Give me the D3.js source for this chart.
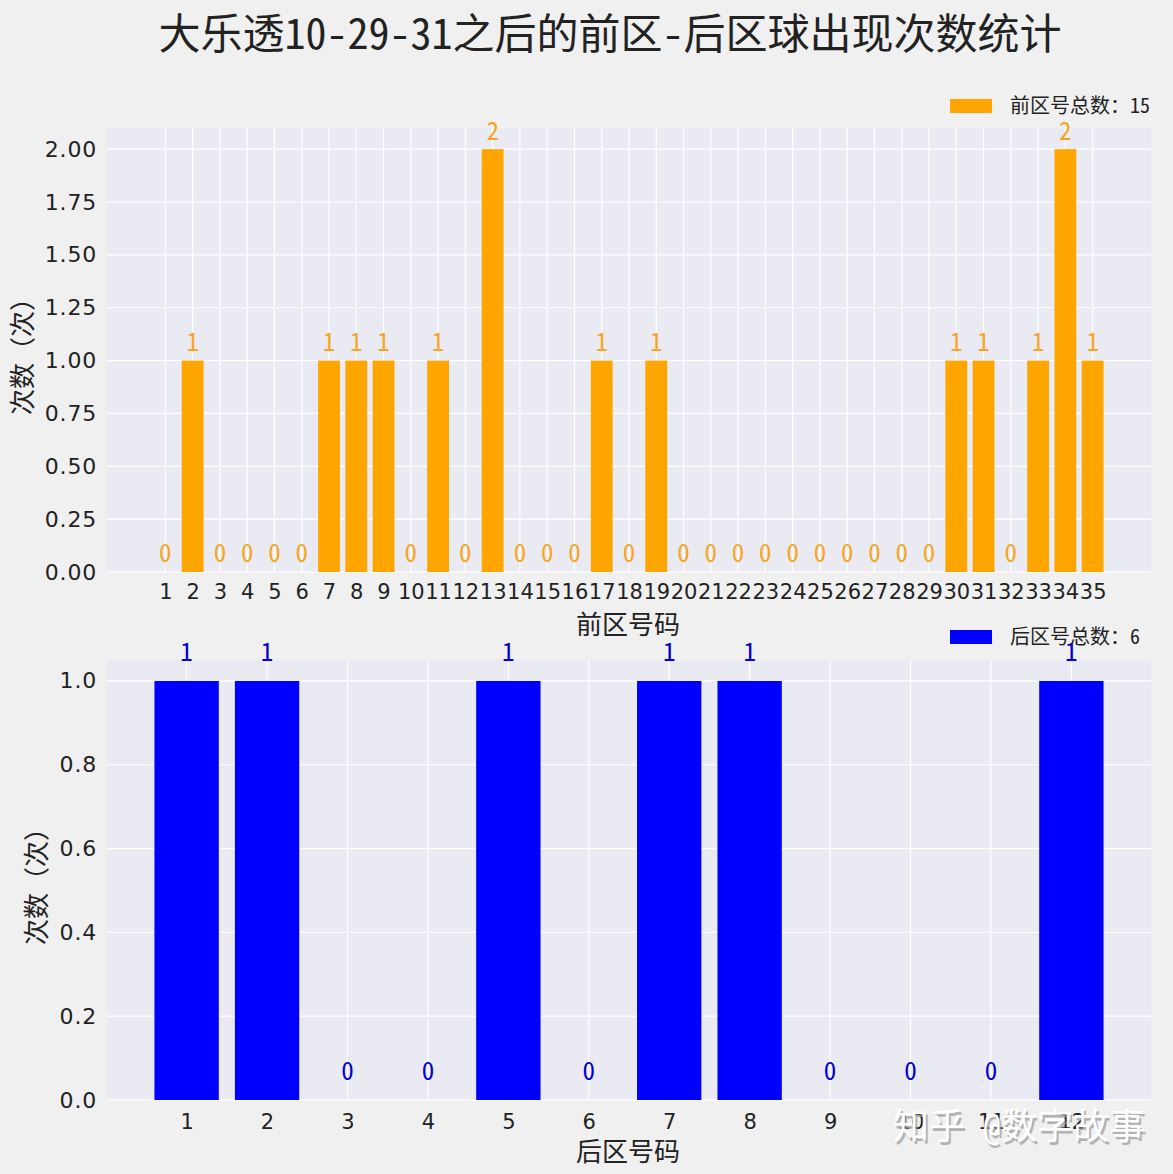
<!DOCTYPE html>
<html lang="zh">
<head>
<meta charset="utf-8">
<script src="https://d3js.org/d3.v7.min.js"></script>
<style>
  body { margin: 0; background: #f0f0f0; }
  text { font-family: "SimHei", "Noto Sans Mono CJK SC", "Noto Sans CJK SC", sans-serif; }
</style>
</head>
<body>
<div id="chart"></div>
<script>
// data
const frontNums = d3.range(1, 36);
const frontCounts = [0,1,0,0,0,0,1,1,1,0, 1,0,2,0,0,0,1,0,1,0, 0,0,0,0,0,0,0,0,0,1, 1,0,1,2,1];
const backNums = d3.range(1, 13);
const backCounts = [1,1,0,0,1,0,1,1,0,0,0,1];
const frontTicks = [0, 0.25, 0.5, 0.75, 1.0, 1.25, 1.5, 1.75, 2.0];
const backTicks = [0, 0.2, 0.4, 0.6, 0.8, 1.0];
const titleText = "大乐透10-29-31之后的前区-后区球出现次数统计";

const W = 1173, H = 1174;
const svg = d3.select("#chart").append("svg")
  .attr("width", W).attr("height", H);

svg.append("rect").attr("width", W).attr("height", H).attr("fill", "#f0f0f0");

svg.append("text")
  .attr("x", 610).attr("y", 49)
  .attr("text-anchor", "middle")
  .attr("font-size", 42)
  .attr("fill", "#222")
  .text(titleText);

// one panel
function panel(opt) {
  const g = svg.append("g");
  const x = d3.scaleLinear().domain(opt.xdom).range([107, 1151]);
  const y = d3.scaleLinear().domain([0, opt.ymax]).range([opt.bottom, opt.top]);

  g.append("rect")
    .attr("x", 107).attr("y", opt.top)
    .attr("width", 1151 - 107).attr("height", opt.bottom - opt.top)
    .attr("fill", "#eaeaf2");

  // grid
  g.selectAll(".hg").data(opt.yticks).enter().append("line")
    .attr("x1", 107).attr("x2", 1151)
    .attr("y1", d => y(d)).attr("y2", d => y(d))
    .attr("stroke", "#fff").attr("stroke-width", 1.2);
  g.selectAll(".vg").data(opt.cats).enter().append("line")
    .attr("y1", opt.top).attr("y2", opt.bottom)
    .attr("x1", d => x(d)).attr("x2", d => x(d))
    .attr("stroke", "#fff").attr("stroke-width", 1.2);

  // axes (no ticks, no domain)
  const ya = g.append("g").attr("transform", "translate(107,0)")
    .call(d3.axisLeft(y).tickValues(opt.yticks).tickSize(0).tickPadding(10).tickFormat(d3.format(opt.yfmt)));
  ya.select(".domain").remove();
  ya.selectAll("text").attr("font-size", 22).attr("fill", "#222")
    .style("font-family", "'DejaVu Sans', sans-serif").attr("letter-spacing", 0.8);

  const xa = g.append("g").attr("transform", "translate(0," + opt.bottom + ")")
    .call(d3.axisBottom(x).tickValues(opt.cats).tickSize(0).tickPadding(opt.xpad).tickFormat(d3.format("d")));
  xa.select(".domain").remove();
  xa.selectAll("text").attr("font-size", 21).attr("fill", "#222")
    .style("font-family", "'DejaVu Sans', sans-serif");

  // bars
  const bw = (x(1.8) - x(1));
  g.selectAll(".bar").data(opt.cats).enter().append("rect")
    .attr("x", (d, i) => x(d) - bw / 2)
    .attr("y", (d, i) => y(opt.vals[i]))
    .attr("width", bw)
    .attr("height", (d, i) => opt.bottom - y(opt.vals[i]))
    .attr("fill", opt.color);

  // value labels
  g.selectAll(".lab").data(opt.cats).enter().append("text")
    .attr("x", d => x(d))
    .attr("y", (d, i) => y(opt.vals[i] + 0.05) + 1)
    .attr("text-anchor", "middle")
    .attr("font-size", 25)
    .attr("fill", opt.labColor)
    .text((d, i) => opt.vals[i]);

  // axis labels
  g.append("text")
    .attr("x", 628).attr("y", opt.xlabY)
    .attr("text-anchor", "middle")
    .attr("font-size", 26).attr("fill", "#222")
    .text(opt.xlabel);
  g.append("text")
    .attr("transform", "translate(" + opt.ylabX + "," + ((opt.top + opt.bottom) / 2) + ") rotate(-90)")
    .attr("text-anchor", "middle")
    .attr("font-size", 26).attr("fill", "#222")
    .text("次数（次）");

  // legend
  g.append("rect").attr("x", 950).attr("y", opt.legY - 7)
    .attr("width", 42).attr("height", 14).attr("fill", opt.color);
  g.append("text").attr("x", 1010).attr("y", opt.legY + 7)
    .attr("font-size", 20).attr("fill", "#222")
    .text(opt.legend);
}

panel({
  cats: frontNums, vals: frontCounts, yticks: frontTicks, yfmt: ".2f",
  xdom: [-1.14, 37.14], ymax: 2.1, top: 128, bottom: 572,
  color: "#ffa500", labColor: "#f5a623",
  xpad: 12, xlabel: "前区号码", xlabY: 634, ylabX: 32, legY: 106,
  legend: "前区号总数：" + d3.sum(frontCounts)
});

panel({
  cats: backNums, vals: backCounts, yticks: backTicks, yfmt: ".1f",
  xdom: [0.01, 12.99], ymax: 1.05, top: 660, bottom: 1100,
  color: "#0000ff", labColor: "#0000cc",
  xpad: 14, xlabel: "后区号码", xlabY: 1161, ylabX: 46, legY: 637,
  legend: "后区号总数：" + d3.sum(backCounts)
});

// watermark
svg.append("text")
  .attr("x", 1147).attr("y", 1142).attr("text-anchor", "end")
  .attr("font-size", 36).attr("fill", "#999").attr("opacity", 0.7)
  .text("知乎 @数字故事");
svg.append("text")
  .attr("x", 1145).attr("y", 1139).attr("text-anchor", "end")
  .attr("font-size", 36).attr("fill", "#fff")
  .text("知乎 @数字故事");
</script>
</body>
</html>
